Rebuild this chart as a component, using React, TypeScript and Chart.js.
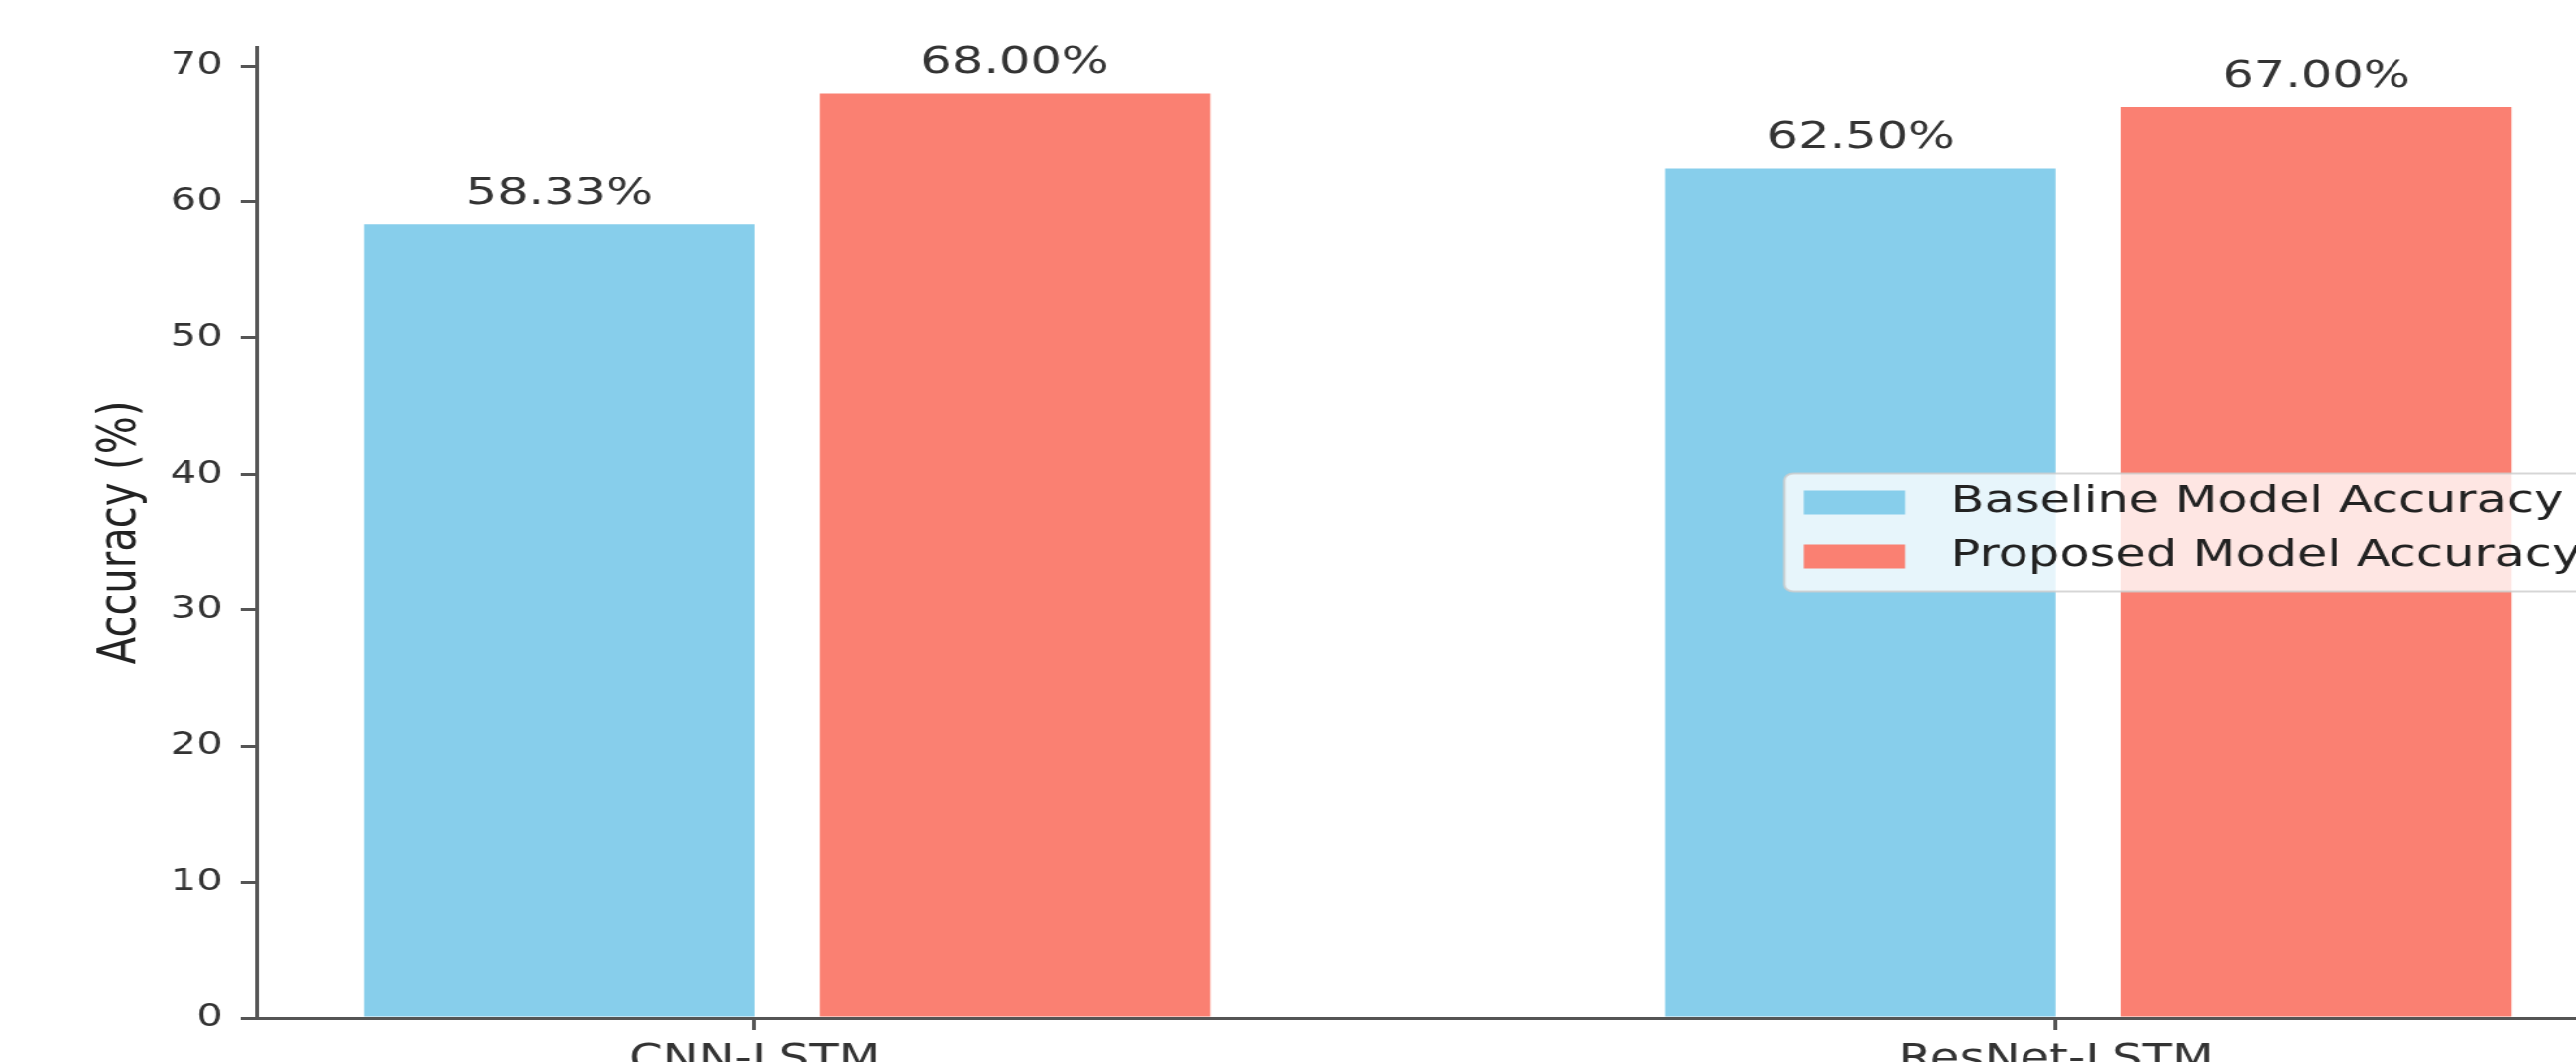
import { useEffect, useRef } from "react";
import { Chart, registerables } from "chart.js";

Chart.register(...registerables);

// ---- data ----
const CATEGORIES = ["CNN-LSTM", "ResNet-LSTM"];
const SERIES_LABELS = ["Baseline Model Accuracy", "Proposed Model Accuracy"];
const BASELINE = [58.33, 62.5];
const PROPOSED = [68.0, 67.0];
const Y_TICKS = [0, 10, 20, 30, 40, 50, 60, 70];
const Y_MAX = 71.4;

// ---- layout / style ----
const BAR_WIDTH = 0.3;
const BAR_GAP = 0.05;
const EXTENT_LO = -BAR_WIDTH;
const EXTENT_HI = CATEGORIES.length - 1 + BAR_GAP + BAR_WIDTH;
const MARGIN = 0.05 * (EXTENT_HI - EXTENT_LO);
const X_MIN = EXTENT_LO - MARGIN;
const X_MAX = EXTENT_HI + MARGIN;

const STRETCH = 1.3;
const CANVAS_W = 2060;
const CANVAS_H = 1120;
const FONT = "'DejaVu Sans', 'Noto Sans', sans-serif";
const AXIS_COLOR = "#555555";
const TEXT_COLOR = "#333333";
const COLORS = ["#87CEEB", "#FA8072"];

const valueLabels = {
  id: "valueLabels",
  afterDatasetsDraw(chart: any) {
    const { ctx } = chart;
    ctx.save();
    ctx.font = `38px ${FONT}`;
    ctx.fillStyle = TEXT_COLOR;
    ctx.textAlign = "center";
    ctx.textBaseline = "alphabetic";
    chart.data.datasets.forEach((ds: any, di: number) => {
      const meta = chart.getDatasetMeta(di);
      meta.data.forEach((bar: any, i: number) => {
        const v = ds.data[i].y;
        ctx.fillText(`${v.toFixed(2)}%`, bar.x, bar.y - 20);
      });
    });
    ctx.restore();
  },
};

const insideLegend = {
  id: "insideLegend",
  afterDraw(chart: any) {
    const { ctx, chartArea } = chart;
    ctx.save();
    ctx.font = `38px ${FONT}`;
    const items = chart.data.datasets.map((d: any) => ({ label: d.label, color: d.backgroundColor }));
    const textW = Math.max(...items.map((it: any) => ctx.measureText(it.label).width));
    const padX = 15;
    const handleW = 78;
    const handleH = 24;
    const gapX = 35;
    const rowH = 55;
    const firstRow = 29;
    const boxW = padX + handleW + gapX + textW + padX;
    const boxH = 119;
    const right = chartArea.right - 14;
    const left = right - boxW;
    const top = (chartArea.top + chartArea.bottom) / 2 - boxH / 2;

    ctx.beginPath();
    ctx.roundRect(left, top, boxW, boxH, 7);
    ctx.fillStyle = "rgba(255,255,255,0.8)";
    ctx.fill();
    ctx.strokeStyle = "rgba(204,204,204,0.8)";
    ctx.lineWidth = 2;
    ctx.stroke();

    items.forEach((it: any, i: number) => {
      const cy = top + firstRow + i * rowH;
      ctx.fillStyle = it.color;
      ctx.fillRect(left + padX, cy - handleH / 2, handleW, handleH);
      ctx.fillStyle = "#222222";
      ctx.textAlign = "left";
      ctx.textBaseline = "middle";
      ctx.fillText(it.label, left + padX + handleW + gapX, cy);
    });
    ctx.restore();
  },
};

export default function App() {
  const canvasRef = useRef<HTMLCanvasElement | null>(null);

  useEffect(() => {
    const canvas = canvasRef.current;
    if (!canvas) return;
    const chart = new Chart(canvas, {
      type: "bar",
      data: {
        datasets: [
          {
            label: SERIES_LABELS[0],
            data: BASELINE.map((v, i) => ({ x: i - BAR_WIDTH / 2, y: v })),
            backgroundColor: COLORS[0],
          },
          {
            label: SERIES_LABELS[1],
            data: PROPOSED.map((v, i) => ({ x: i + BAR_GAP + BAR_WIDTH / 2, y: v })),
            backgroundColor: COLORS[1],
          },
        ],
      } as any,
      options: {
        responsive: false,
        animation: false,
        devicePixelRatio: 1,
        layout: { padding: { left: 0, top: 47, right: 40, bottom: 0 } },
        datasets: {
          bar: {
            grouped: false,
            categoryPercentage: 1,
            barPercentage: BAR_WIDTH / (BAR_WIDTH + BAR_GAP),
            borderWidth: 0,
          },
        },
        plugins: {
          legend: { display: false },
          tooltip: { enabled: false },
        },
        scales: {
          x: {
            type: "linear",
            min: X_MIN,
            max: X_MAX,
            offset: false,
            afterBuildTicks: (s: any) => {
              s.ticks = CATEGORIES.map((_, i) => ({ value: i }));
            },
            afterFit: (s: any) => {
              s.height = 99;
            },
            grid: {
              offset: false,
              drawOnChartArea: false,
              drawTicks: true,
              tickLength: 12,
              lineWidth: 3,
              color: AXIS_COLOR,
            },
            border: { display: true, color: AXIS_COLOR, width: 3 },
            ticks: {
              callback: (v: any) => CATEGORIES[v] ?? "",
              font: { family: FONT, size: 37 },
              color: TEXT_COLOR,
              padding: 8,
              maxRotation: 0,
              autoSkip: false,
            },
          },
          y: {
            type: "linear",
            min: 0,
            max: Y_MAX,
            afterBuildTicks: (s: any) => {
              s.ticks = Y_TICKS.map((v) => ({ value: v }));
            },
            afterFit: (s: any) => {
              s.width = 198;
            },
            grid: {
              drawOnChartArea: false,
              drawTicks: true,
              tickLength: 12,
              lineWidth: 3,
              color: AXIS_COLOR,
            },
            border: { display: true, color: AXIS_COLOR, width: 3 },
            ticks: {
              font: { family: FONT, size: 32 },
              color: TEXT_COLOR,
              padding: 14,
            },
            title: {
              display: true,
              text: "Accuracy (%)",
              font: { family: FONT, size: 40 },
              color: "#222222",
              padding: { top: 70, bottom: 0 },
            },
          },
        },
      } as any,
      plugins: [valueLabels, insideLegend],
    });
    return () => chart.destroy();
  }, []);

  return (
    <div
      style={{
        position: "fixed",
        left: 0,
        top: 0,
        width: "100vw",
        height: "100vh",
        overflow: "hidden",
        background: "#ffffff",
      }}
    >
      <div
        style={{
          width: CANVAS_W,
          height: CANVAS_H,
          transform: `scaleX(${STRETCH})`,
          transformOrigin: "0 0",
        }}
      >
        <canvas ref={canvasRef} width={CANVAS_W} height={CANVAS_H} />
      </div>
    </div>
  );
}
